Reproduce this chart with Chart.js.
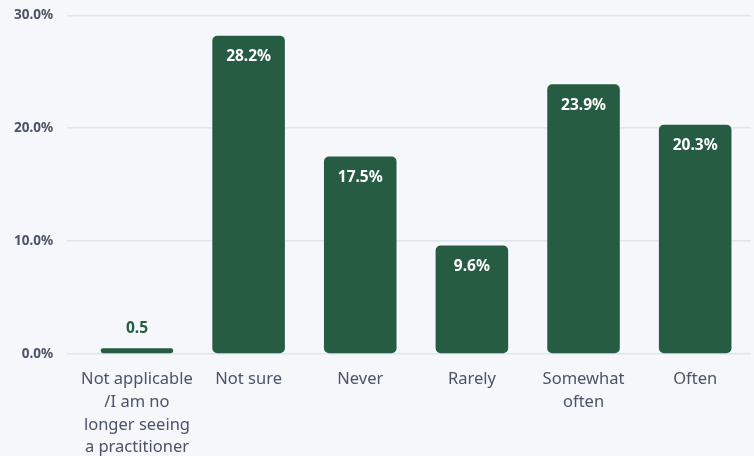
<!DOCTYPE html>
<html>
<head>
<meta charset="utf-8">
<script src="https://cdn.jsdelivr.net/npm/chart.js@4.4.1/dist/chart.umd.min.js"></script>
<style>
  html, body { margin: 0; padding: 0; background: #f5f7fb; }
  #wrap { width: 754px; height: 456px; }
</style>
</head>
<body>
<div id="wrap"><canvas id="c" width="754" height="456"></canvas></div>
<script>
const categories = [
  ["Not applicable", "/I am no", "longer seeing", "a practitioner"],
  "Not sure",
  "Never",
  "Rarely",
  ["Somewhat", "often"],
  "Often"
];
const values = [0.5, 28.2, 17.5, 9.6, 23.9, 20.3];
const valueLabels = ["0.5", "28.2%", "17.5%", "9.6%", "23.9%", "20.3%"];
const yTicks = [0, 10, 20, 30];

const FONT = "'Noto Sans', Lato, sans-serif";
const GREEN = "#265c42";

const labelPlugin = {
  id: 'valueLabels',
  afterDatasetsDraw(chart) {
    const ctx = chart.ctx;
    const meta = chart.getDatasetMeta(0);
    ctx.save();
    ctx.font = "bold 15.5px " + FONT;
    ctx.textAlign = 'center';
    ctx.textBaseline = 'middle';
    meta.data.forEach((bar, i) => {
      const h = bar.base - bar.y;
      if (h > 40) {
        ctx.fillStyle = '#ffffff';
        ctx.fillText(valueLabels[i], bar.x, bar.y + 21);
      } else {
        ctx.fillStyle = GREEN;
        ctx.fillText(valueLabels[i], bar.x, bar.y - 20);
      }
    });
    ctx.restore();
  }
};

new Chart(document.getElementById('c'), {
  type: 'bar',
  data: {
    labels: categories,
    datasets: [{
      data: values,
      backgroundColor: GREEN,
      borderRadius: 5,
      borderSkipped: false,
      categoryPercentage: 1.0,
      barPercentage: 0.65
    }]
  },
  options: {
    responsive: false,
    animation: false,
    devicePixelRatio: 1,
    layout: { padding: { left: 0, right: 3, top: 0, bottom: -9 } },
    plugins: { legend: { display: false }, tooltip: { enabled: false } },
    scales: {
      x: {
        grid: { display: false },
        border: { display: false },
        ticks: {
          color: '#4a5466',
          font: { family: FONT, size: 16.5, lineHeight: 1.38 },
          padding: 6,
          maxRotation: 0,
          autoSkip: false
        }
      },
      y: {
        min: 0,
        max: 30,
        afterBuildTicks(axis) { axis.ticks = yTicks.map(v => ({ value: v })); },
        grid: { color: '#dfe5ec', lineWidth: 1.5, tickLength: 14 },
        border: { display: false },
        ticks: {
          color: '#4a5466',
          font: { family: FONT, size: 13.5, weight: 'bold', lineHeight: 0.2 },
          padding: 14,
          callback: v => v.toFixed(1) + '%'
        }
      }
    }
  },
  plugins: [labelPlugin]
});
</script>
</body>
</html>
